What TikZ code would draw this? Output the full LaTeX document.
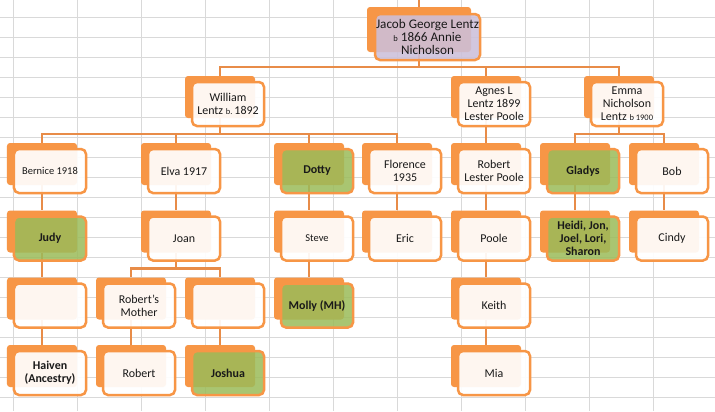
\documentclass[tikz,border=0pt]{standalone}
\usepackage{fontspec}
\setmainfont{Carlito}
\usetikzlibrary{backgrounds}
\definecolor{smartorange}{RGB}{247,150,70}
\definecolor{linkorange}{RGB}{232,140,72}
\definecolor{leafgreen}{RGB}{155,187,89}
\definecolor{rootlilac}{RGB}{204,192,218}
\definecolor{gridgray}{RGB}{217,217,217}
\definecolor{inktext}{RGB}{25,25,25}
% orange card behind, text card in front
\newcommand{\member}[4][]{%
  \node[backcard] (#2) at (#3) {};
  \node[frontcard, #1] (#2-text) at ([shift={(8,7)}]#2) {#4};
}
\newcommand{\bsmall}[1]{{\fontsize{8.5}{9}\selectfont #1}}

\begin{document}
\begin{tikzpicture}[x=1bp, y=-1bp,
  backcard/.style={fill=smartorange, rounded corners=3bp, minimum width=70bp, minimum height=42bp, inner sep=0pt},
  frontcard/.style={draw=smartorange, line width=2.5bp, fill=white, fill opacity=0.92, text opacity=1, rounded corners=5bp, minimum width=72bp, minimum height=44bp, inner sep=1bp, align=center, text=inktext, font=\fontsize{12}{13}\selectfont},
  greencard/.style={fill=leafgreen, fill opacity=0.85, font=\bfseries\fontsize{12}{13}\selectfont},
  boldname/.style={font=\bfseries\fontsize{12}{13}\selectfont},
  smallname/.style={font=\fontsize{10.5}{12}\selectfont},
  link/.style={draw=linkorange, line width=2.5bp},
  gridline/.style={draw=gridgray, line width=1bp}]
\useasboundingbox (0,0) rectangle (715,411);

% Sheet grid
\begin{scope}[on background layer]
\fill[white] (0,0) rectangle (715,411);
\foreach \k in {0,...,10}
  \draw[gridline] ({13.3+64*\k},0) -- ({13.3+64*\k},411);
\foreach \k in {0,...,19}
  \draw[gridline] (0,{17.3+20*\k}) -- (715,{17.3+20*\k});
\end{scope}

% Root
\node[backcard, minimum width=104bp, minimum height=45bp] (jacob) at (419,29.5) {};
\node[frontcard, fill=rootlilac, fill opacity=0.88, minimum width=105bp, minimum height=46bp, font=\fontsize{13.2}{13}\selectfont] (jacob-text) at ([shift={(8.5,7.5)}]jacob) {Jacob George Lentz\\\bsmall{b} 1866 Annie\\Nicholson};
\coordinate (top) at (419,0);

% Children
\member{william}{220,97}{William\\Lentz \bsmall{b.}\,1892}
\member{agnes}{486,97}{Agnes L\\Lentz 1899\\Lester Poole}
\member{emma}{619,97}{Emma\\Nicholson\\Lentz \bsmall{b 1900}}

% Grandchildren
\member[smallname]{bernice}{42,164}{Bernice 1918}
\member{elva}{176,164}{Elva 1917}
\member[greencard]{dotty}{309,164}{Dotty}
\member{florence}{397,164}{Florence\\1935}
\member{robertlp}{486,164}{Robert\\Lester Poole}
\member[greencard]{gladys}{575,164}{Gladys}
\member{bob}{664,164}{Bob}

% Next generation
\member[greencard]{judy}{42,231.5}{Judy}
\member{joan}{176,231.5}{Joan}
\member[smallname]{steve}{309,231.5}{Steve}
\member{eric}{397,231.5}{Eric}
\member{poole}{486,231.5}{Poole}
\member[greencard]{heidi}{575,231.5}{Heidi, Jon,\\Joel, Lori,\\Sharon}
\member{cindy}{664,231.5}{Cindy}

\member{judykid}{42,298.5}{}
\member{robmother}{131,298.5}{Robert's\\Mother}
\member{joankid}{220,298.5}{}
\member[greencard]{molly}{309,298.5}{Molly (MH)}
\member{keith}{486,298.5}{Keith}

\member[boldname]{haiven}{42,366}{Haiven\\(Ancestry)}
\member{robert}{131,366}{Robert}
\member[greencard]{joshua}{220,366}{Joshua}
\member{mia}{486,366}{Mia}

% Connectors
\begin{scope}[on background layer]
\draw[link] (jacob) -- (top);
\foreach \kid in {william,agnes,emma}
  \draw[link] (jacob.south) -- ++(0,15) -| (\kid.north);
\foreach \kid in {bernice,elva,dotty,florence}
  \draw[link] (william.south) -- ++(0,16) -| (\kid.north);
\foreach \kid in {gladys,bob}
  \draw[link] (emma.south) -- ++(0,16) -| (\kid.north);
\foreach \kid in {robmother,joankid}
  \draw[link] (joan.south) -- ++(0,16) -| (\kid.north);
\draw[link] (agnes) -- (robertlp);
\draw[link] (robertlp) -- (poole);
\draw[link] (poole) -- (keith);
\draw[link] (keith) -- (mia);
\draw[link] (bernice) -- (judy);
\draw[link] (judy) -- (judykid);
\draw[link] (judykid) -- (haiven);
\draw[link] (elva) -- (joan);
\draw[link] (dotty) -- (steve);
\draw[link] (steve) -- (molly);
\draw[link] (florence) -- (eric);
\draw[link] (gladys) -- (heidi);
\draw[link] (bob) -- (cindy);
\draw[link] (robmother) -- (robert);
\draw[link] (joankid) -- (joshua);
\end{scope}
\end{tikzpicture}
\end{document}
